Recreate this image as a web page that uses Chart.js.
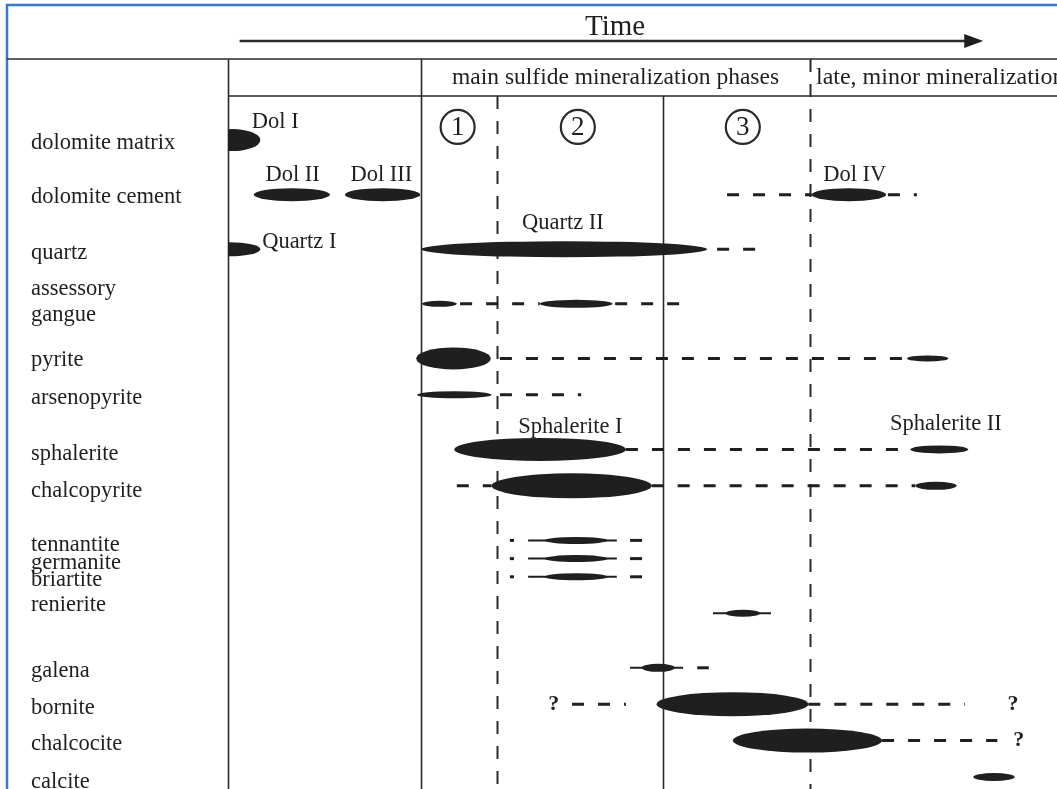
<!DOCTYPE html>
<html>
<head>
<meta charset="utf-8">
<script src="https://cdn.jsdelivr.net/npm/chart.js@4.4.1/dist/chart.umd.min.js"></script>
<style>
  html, body { margin: 0; padding: 0; background: #fff; }
  #wrap { width: 1057px; height: 789px; }
</style>
</head>
<body>
<div id="wrap"><canvas id="chart" width="1057" height="789"></canvas></div>
<script>
// mineral names in the left column, where each name sits and where its track runs (row slots)
const minerals = ['dolomite matrix', 'dolomite cement', 'quartz', ['assessory', 'gangue'], 'pyrite',
  'arsenopyrite', 'sphalerite', 'chalcopyrite', 'tennantite', 'germanite', 'briartite', 'renierite',
  'galena', 'bornite', 'chalcocite', 'calcite'];
const labelSlots = [0.16, 3.13, 6.2, 8.9, 12.1, 14.2, 17.25, 19.3, 22.25, 23.24, 24.2, 25.55, 29.2, 31.2, 33.2, 35.3];
const rowSlots = [0, 3, 6, 9, 12, 14, 17, 19, 22, 23, 24, 26, 29, 31, 33, 35];

// time axis: 0 = start of record, 100 = right edge
const stageBounds = [0, 23.3, 32.4, 52.5, 70.2];
const phaseNumbers = ['1', '2', '3'];
const phaseAt = [27.7, 42.2, 62.1];
const timeArrow = [1.4, 91.1];
const timeLabelAt = 46.7;

// growth lenses: row, start, end, relative abundance
const lensRow   = [0, 1, 1, 1, 2, 2, 3, 3, 4, 4, 5, 6, 6, 7, 7, 8, 9, 10, 11, 12, 13, 14, 15];
const lensStart = [-2.8, 3.1, 14.1, 70.4, -3.6, 23.3, 23.4, 37.6, 22.7, 81.9, 22.8, 27.3, 82.3, 31.8, 82.9, 38.2, 38.2, 38.2, 60.0, 49.9, 51.7, 60.9, 89.9];
const lensEnd   = [3.9, 12.3, 23.2, 79.4, 3.9, 57.8, 27.6, 46.4, 31.7, 86.9, 31.8, 48.0, 89.3, 51.1, 87.9, 45.8, 45.8, 45.8, 64.2, 53.9, 70.0, 78.9, 94.9];
const lensAbund = [4.4, 2.6, 2.6, 2.6, 2.8, 3.2, 1.2, 1.6, 4.4, 1.2, 1.4, 4.6, 1.6, 5.0, 1.6, 1.4, 1.4, 1.4, 1.4, 1.6, 4.8, 4.8, 1.6];

// uncertain / minor occurrence (dashed)
const traceRow   = [1, 1, 2, 3, 3, 4, 5, 6, 7, 7, 8, 9, 10, 8, 9, 10, 12, 13, 13, 14];
const traceStart = [60.2, 79.6, 59.0, 28.0, 46.7, 32.8, 32.8, 48.0, 27.6, 51.1, 34.0, 34.0, 34.0, 48.5, 48.5, 48.5, 56.6, 41.5, 70.0, 78.9];
const traceEnd   = [70.4, 83.1, 63.8, 37.6, 54.9, 81.9, 42.6, 82.3, 31.8, 82.9, 34.5, 34.5, 34.5, 50.1, 50.1, 50.1, 58.0, 48.0, 88.9, 92.8];

// thin solid tails
const tailRow   = [8, 9, 10, 11, 12];
const tailStart = [36.2, 36.2, 36.2, 58.5, 48.5];
const tailEnd   = [46.9, 46.9, 46.9, 65.5, 54.9];

// names written next to the lenses
const noteText = ['Dol I', 'Dol II', 'Dol III', 'Dol IV', 'Quartz I', 'Quartz II', 'Sphalerite I', 'Sphalerite II', '?', '?', '?'];
const noteX    = [5.7, 7.8, 18.5, 75.6, 8.6, 40.4, 41.3, 86.6, 39.3, 94.7, 95.4];
const noteSlot = [-0.99, 1.92, 1.92, 1.92, 5.6, 4.56, 15.77, 15.6, 31.0, 31.0, 33.0];

const INK = '#1f1f1f';
const SERIF = '"Liberation Serif", "Times New Roman", serif';
const HEAD_TOP = 59;

const datasets = [];
traceRow.forEach((r, i) => {
  datasets.push({
    data: [{x: traceStart[i], y: rowSlots[r]}, {x: traceEnd[i], y: rowSlots[r]}],
    showLine: true, borderColor: INK, borderWidth: 3, borderDash: [12, 14],
    borderCapStyle: 'butt', pointRadius: 0
  });
});
tailRow.forEach((r, i) => {
  datasets.push({
    data: [{x: tailStart[i], y: rowSlots[r]}, {x: tailEnd[i], y: rowSlots[r]}],
    showLine: true, borderColor: INK, borderWidth: 2, pointRadius: 0
  });
});

const diagram = {
  id: 'diagram',
  beforeDraw(chart) {
    const {ctx, width, height} = chart;
    ctx.save();
    ctx.fillStyle = '#fff';
    ctx.fillRect(0, 0, width, height);
    ctx.strokeStyle = '#3b78cc';
    ctx.lineWidth = 2.5;
    ctx.beginPath();
    ctx.moveTo(7, height); ctx.lineTo(7, 5); ctx.lineTo(width, 5);
    ctx.stroke();
    ctx.restore();
  },
  beforeDatasetsDraw(chart) {
    const {ctx, width, chartArea: a, scales: {x, y}} = chart;
    ctx.save();
    ctx.strokeStyle = '#2a2a2a';
    ctx.lineWidth = 1.6;
    // header table
    ctx.beginPath();
    ctx.moveTo(7, HEAD_TOP); ctx.lineTo(width, HEAD_TOP);
    ctx.moveTo(x.getPixelForValue(stageBounds[0]), a.top); ctx.lineTo(width, a.top);
    ctx.stroke();
    stageBounds.forEach((b, i) => {
      const px = Math.round(x.getPixelForValue(b)) + 0.5;
      const top = (i === 2 || i === 3) ? a.top : HEAD_TOP;
      ctx.setLineDash((i === 2 || i === 4) ? [13, 12] : []);
      ctx.lineWidth = (i === 2 || i === 4) ? 2 : 1.6;
      ctx.beginPath(); ctx.moveTo(px, top); ctx.lineTo(px, a.bottom); ctx.stroke();
    });
    ctx.setLineDash([]);

    // time arrow
    const x0 = x.getPixelForValue(timeArrow[0]), x1 = x.getPixelForValue(timeArrow[1]);
    ctx.lineWidth = 2.5;
    ctx.beginPath(); ctx.moveTo(x0, 41); ctx.lineTo(x1 - 14, 41); ctx.stroke();
    ctx.fillStyle = INK;
    ctx.beginPath(); ctx.moveTo(x1, 41); ctx.lineTo(x1 - 19, 34); ctx.lineTo(x1 - 19, 48); ctx.closePath(); ctx.fill();

    ctx.fillStyle = INK;
    ctx.textBaseline = 'middle';
    ctx.textAlign = 'center';
    ctx.font = '29px ' + SERIF;
    ctx.fillText('Time', x.getPixelForValue(timeLabelAt), 27);
    ctx.font = '23.5px ' + SERIF;
    const mid = (x.getPixelForValue(stageBounds[1]) + x.getPixelForValue(stageBounds[4])) / 2;
    ctx.fillText('main sulfide mineralization phases', mid, 78);
    ctx.textAlign = 'left';
    ctx.font = '24px ' + SERIF;
    ctx.fillText('late, minor mineralization', x.getPixelForValue(stageBounds[4]) + 6, 78);

    // circled phase numbers
    ctx.textAlign = 'center';
    phaseNumbers.forEach((n, i) => {
      const cx = x.getPixelForValue(phaseAt[i]), cy = y.getPixelForValue(-0.72);
      ctx.lineWidth = 2.2;
      ctx.beginPath(); ctx.arc(cx, cy, 17, 0, Math.PI * 2); ctx.stroke();
      ctx.font = '27px ' + SERIF;
      ctx.fillText(n, cx, cy + 1);
    });
    ctx.restore();
  },
  afterDatasetsDraw(chart) {
    const {ctx, chartArea: a, scales: {x, y}} = chart;
    ctx.save();
    ctx.beginPath(); ctx.rect(a.left, a.top, a.right - a.left, a.bottom - a.top); ctx.clip();
    ctx.fillStyle = INK;
    lensRow.forEach((r, i) => {
      const l = x.getPixelForValue(lensStart[i]), rr = x.getPixelForValue(lensEnd[i]);
      ctx.beginPath();
      ctx.ellipse((l + rr) / 2, y.getPixelForValue(rowSlots[r]), (rr - l) / 2, lensAbund[i] * 2.5, 0, 0, Math.PI * 2);
      ctx.fill();
    });
    ctx.textBaseline = 'middle';
    ctx.textAlign = 'center';
    noteText.forEach((t, i) => {
      ctx.font = (t === '?' ? 'bold 22px ' : '22.5px ') + SERIF;
      ctx.fillText(t, x.getPixelForValue(noteX[i]), y.getPixelForValue(noteSlot[i]));
    });
    ctx.restore();
  }
};

new Chart(document.getElementById('chart'), {
  type: 'scatter',
  data: {datasets},
  options: {
    responsive: false,
    animation: false,
    events: [],
    layout: {padding: {left: 31, top: 96, right: 0, bottom: 0}},
    plugins: {legend: {display: false}, tooltip: {enabled: false}, title: {display: false}},
    scales: {
      x: {type: 'linear', min: 0, max: 100, display: false},
      y: {
        type: 'linear', reverse: true, min: -2.42, max: 35.66,
        grid: {display: false}, border: {display: false},
        afterBuildTicks: s => { s.ticks = labelSlots.map(v => ({value: v})); },
        afterFit: s => { s.width = 197; s.paddingTop = 0; s.paddingBottom = 0; },
        ticks: {
          autoSkip: false, crossAlign: 'far', padding: 0, color: INK,
          font: {family: SERIF, size: 22.5, lineHeight: 1.16},
          callback: (v, i) => minerals[i]
        }
      }
    }
  },
  plugins: [diagram]
});
</script>
</body>
</html>
